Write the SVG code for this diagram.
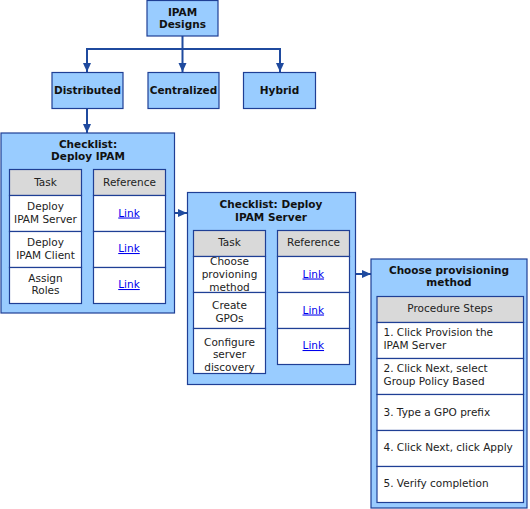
<svg xmlns="http://www.w3.org/2000/svg" width="530" height="509" viewBox="0 0 530 509">
<defs>
<style>
.box{fill:#99CCFF;stroke:#1F3F95;stroke-width:1.2}
.cell{fill:#FFFFFF;stroke:#1F3F95;stroke-width:1.2}
.hdr{fill:#D9D9D9;stroke:#1F3F95;stroke-width:1.2}
.t{font-family:"DejaVu Sans",Verdana,sans-serif;font-size:10.5px;fill:#222;text-anchor:middle}
.b{font-weight:bold;fill:#111}
.l{text-anchor:start}
.lk{fill:#0000EE;text-decoration:underline}
.con{fill:none;stroke:#1F4A9E;stroke-width:2}
</style>
<marker id="ah" markerUnits="userSpaceOnUse" markerWidth="10" markerHeight="10" refX="9" refY="5" orient="auto">
<path d="M0,1 L9,5 L0,9 Z" fill="#1F4A9E"/>
</marker>
</defs>
<rect width="530" height="509" fill="#FFFFFF"/>

<g id="connectors">
<path class="con" d="M182.5,36 V49 H87 V72" marker-end="url(#ah)"/>
<path class="con" d="M182.5,49 V72" marker-end="url(#ah)"/>
<path class="con" d="M182.5,49 H280 V72" marker-end="url(#ah)"/>
<path class="con" d="M87,108 V133" marker-end="url(#ah)"/>
<path class="con" d="M142,213 H187" marker-end="url(#ah)"/>
<path class="con" d="M327,274 H371" marker-end="url(#ah)"/>
</g>

<g id="ipam-designs">
<rect class="box" x="147" y="0.5" width="71" height="35.5"/>
<text class="t b" x="182.5" y="15.5">IPAM</text>
<text class="t b" x="182.5" y="28">Designs</text>
</g>

<g id="distributed">
<rect class="box" x="52" y="72.5" width="71" height="36"/>
<text class="t b" x="87.5" y="94">Distributed</text>
</g>
<g id="centralized">
<rect class="box" x="148" y="72.5" width="71" height="36"/>
<text class="t b" x="183.5" y="94">Centralized</text>
</g>
<g id="hybrid">
<rect class="box" x="243.5" y="72.5" width="72" height="36"/>
<text class="t b" x="279.5" y="94">Hybrid</text>
</g>

<g id="checklist-deploy-ipam">
<rect class="box" x="1" y="133" width="173.5" height="180"/>
<text class="t b" x="88" y="148">Checklist:</text>
<text class="t b" x="88" y="160">Deploy IPAM</text>
<rect class="hdr" x="9.5" y="169.5" width="72" height="26"/>
<rect class="cell" x="9.5" y="195.5" width="72" height="36"/>
<rect class="cell" x="9.5" y="231.5" width="72" height="36"/>
<rect class="cell" x="9.5" y="267.5" width="72" height="36"/>
<rect class="hdr" x="93.5" y="169.5" width="72" height="26"/>
<rect class="cell" x="93.5" y="195.5" width="72" height="36"/>
<rect class="cell" x="93.5" y="231.5" width="72" height="36"/>
<rect class="cell" x="93.5" y="267.5" width="72" height="36"/>
<text class="t" x="45.5" y="185.5">Task</text>
<text class="t" x="129.5" y="185.5">Reference</text>
<text class="t" x="45.5" y="210">Deploy</text>
<text class="t" x="45.5" y="222.5">IPAM Server</text>
<text class="t" x="45.5" y="246">Deploy</text>
<text class="t" x="45.5" y="258.5">IPAM Client</text>
<text class="t" x="45.5" y="281.5">Assign</text>
<text class="t" x="45.5" y="294">Roles</text>
<text class="t lk" x="129" y="216.5">Link</text>
<text class="t lk" x="129" y="252">Link</text>
<text class="t lk" x="129" y="288">Link</text>
</g>

<g id="checklist-deploy-ipam-server">
<rect class="box" x="187.5" y="192.5" width="168" height="192"/>
<text class="t b" x="271" y="208">Checklist: Deploy</text>
<text class="t b" x="271" y="220.5">IPAM Server</text>
<rect class="hdr" x="193.5" y="230.5" width="72" height="26"/>
<rect class="cell" x="193.5" y="256.5" width="72" height="36"/>
<rect class="cell" x="193.5" y="292.5" width="72" height="36"/>
<rect class="cell" x="193.5" y="328.5" width="72" height="45"/>
<rect class="hdr" x="277.5" y="230.5" width="72" height="26"/>
<rect class="cell" x="277.5" y="256.5" width="72" height="36"/>
<rect class="cell" x="277.5" y="292.5" width="72" height="36"/>
<rect class="cell" x="277.5" y="328.5" width="72" height="36"/>
<text class="t" x="229.5" y="246">Task</text>
<text class="t" x="313.5" y="246">Reference</text>
<text class="t" x="229.5" y="265.3">Choose</text>
<text class="t" x="229.5" y="278">provioning</text>
<text class="t" x="229.5" y="290.7">method</text>
<text class="t" x="229.5" y="309">Create</text>
<text class="t" x="229.5" y="321.7">GPOs</text>
<text class="t" x="229.5" y="345.7">Configure</text>
<text class="t" x="229.5" y="358.3">server</text>
<text class="t" x="229.5" y="370.7">discovery</text>
<text class="t lk" x="313.3" y="277.5">Link</text>
<text class="t lk" x="313.3" y="313.5">Link</text>
<text class="t lk" x="313.3" y="349">Link</text>
</g>

<g id="choose-provisioning-method">
<rect class="box" x="371" y="259" width="156" height="249"/>
<text class="t b" x="449" y="274">Choose provisioning</text>
<text class="t b" x="449" y="286.3">method</text>
<rect class="hdr" x="377" y="296.5" width="146.5" height="26"/>
<rect class="cell" x="377" y="322.5" width="146.5" height="36"/>
<rect class="cell" x="377" y="358.5" width="146.5" height="36"/>
<rect class="cell" x="377" y="394.5" width="146.5" height="36"/>
<rect class="cell" x="377" y="430.5" width="146.5" height="36"/>
<rect class="cell" x="377" y="466.5" width="146.5" height="36"/>
<text class="t" x="450" y="312.3">Procedure Steps</text>
<text class="t l" x="383.5" y="336.3">1. Click Provision the</text>
<text class="t l" x="383.5" y="349">IPAM Server</text>
<text class="t l" x="383.5" y="372.3">2. Click Next, select</text>
<text class="t l" x="383.5" y="385">Group Policy Based</text>
<text class="t l" x="383.5" y="415.7">3. Type a GPO prefix</text>
<text class="t l" x="383.5" y="451.3">4. Click Next, click Apply</text>
<text class="t l" x="383.5" y="486.7">5. Verify completion</text>
</g>
</svg>
